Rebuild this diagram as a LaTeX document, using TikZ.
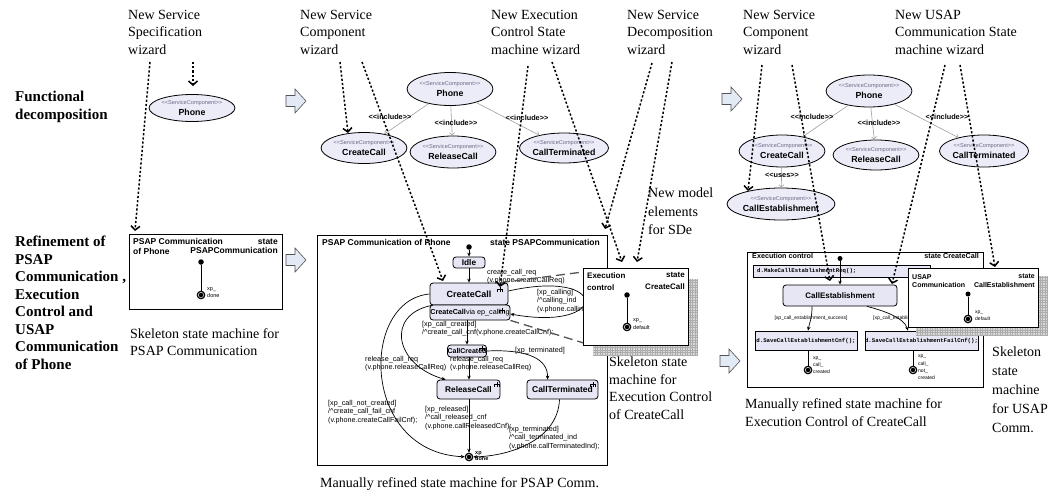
\documentclass[tikz,border=0pt]{standalone}
\usepackage{fontspec}
\setmainfont{Liberation Serif}
\setsansfont{Liberation Sans}
\setmonofont{Liberation Mono}
\usetikzlibrary{arrows.meta,shapes.geometric,calc}

\definecolor{ucfill}{HTML}{ECECF8}
\definecolor{stfill}{HTML}{E6E6F4}
\definecolor{arrfill}{HTML}{E2EAF6}
\definecolor{stereo}{HTML}{6A6A88}
\definecolor{decomp}{HTML}{555555}

% stereotype brackets, kept apart so no ligature forms
\newcommand\guil[1]{<\kern0pt<#1>\kern0pt>}
% use case label: stereotype line and name
\newcommand\ucl[1]{{\fontsize{5.6}{6}\selectfont\color{stereo}\guil{ServiceComponent}}\\[-0.5pt]{\fontsize{8.8}{10}\selectfont\bfseries #1}}

\tikzset{
  blockarrow/.pic={\draw[draw=gray!65!black, fill=arrfill, line width=0.6pt]
    (-10,-5.5) -- (-1,-5.5) -- (-1,-12) -- (10,0) -- (-1,12) -- (-1,5.5) -- (-10,5.5) -- cycle;},
  rake/.pic={\draw[line width=0.5pt] (0,0) -- (0,2.5) (-2.5,5) -- (-2.5,2.5) -- (2.5,2.5) -- (2.5,5) (0,2.5) -- (0,5);}
}

\begin{document}
\begin{tikzpicture}[x=1pt,y=-1pt,
  wiz/.style={anchor=north west, inner sep=0, align=left, font=\fontsize{14}{17.5}\selectfont},
  rowlab/.style={anchor=north west, inner sep=0, align=left, font=\fontsize{15}{17.5}\selectfont\bfseries},
  uc/.style={ellipse, draw, line width=0.8pt, fill=ucfill, inner sep=0, align=center, font=\sffamily},
  incl/.style={draw=gray!75, line width=0.6pt, -{Straight Barb[length=2.5pt,width=5pt]}},
  stlab/.style={inner sep=0, font=\sffamily\bfseries\fontsize{7.3}{8}\selectfont},
  wizarr/.style={line width=1.5pt, dash pattern=on 2.2pt off 2pt, -{Straight Barb[length=4pt,width=9pt]}},
  decompl/.style={draw=decomp, line width=1.3pt, dash pattern=on 9pt off 5pt},
  tr/.style={line width=0.7pt, -{Stealth[length=4pt,width=3.5pt]}},
  plainl/.style={line width=0.9pt},
  smbox/.style={draw, line width=0.8pt, fill=white, inner sep=0, anchor=north west},
  ttl/.style={inner sep=0, align=left, font=\sffamily\bfseries\fontsize{8.5}{9.5}\selectfont},
  st/.style={draw, rounded corners=3pt, fill=stfill, line width=0.8pt, inner sep=0, font=\sffamily\bfseries},
  act/.style={draw, fill=stfill, line width=0.7pt, inner sep=0, font=\ttfamily\bfseries\fontsize{5.7}{6}\selectfont},
  tl/.style={anchor=north west, inner sep=0, align=left, font=\sffamily\fontsize{7.2}{8.3}\selectfont},
  smalllab/.style={anchor=north west, inner sep=0, align=left, font=\sffamily\fontsize{5.5}{7}\selectfont},
  initdot/.style={circle, fill, inner sep=0, minimum size=5.5pt},
  finaldot/.style={circle, draw=black, fill=black, line width=0.6pt, inner sep=0, minimum size=8pt,
    path picture={\draw[white, line width=0.45pt] (path picture bounding box.center) circle (2.7pt);}},
  gridshadow/.style={fill=gray!30},
  gridlines/.style={draw=gray!65, line width=0.35pt, step=2.5pt},
]
\path[use as bounding box] (0,0) rectangle (1051,495);
\fill[white] (0,0) rectangle (1051,495);

% ---------------- headings ----------------
\node[wiz] (wSpec) at (128,10) {New Service\\Specification\\wizard};
\node[wiz] (wComp) at (300,10) {New Service\\Component\\wizard};
\node[wiz] (wExec) at (491,10) {New Execution\\Control State\\machine wizard};
\node[wiz] (wDec) at (627,10) {New Service\\Decomposition\\wizard};
\node[wiz] (wComp2) at (743,10) {New Service\\Component\\wizard};
\node[wiz] (wUsap) at (895,10) {New USAP\\Communication State\\machine wizard};

\node[rowlab] (rFunc) at (15,91) {Functional\\decomposition};
\node[rowlab] (rRef) at (15,236) {Refinement of\\PSAP\\Communication ,\\Execution\\Control and\\USAP\\Communication\\of Phone};

% ---------------- functional decomposition ----------------
\node[uc, minimum width=81, minimum height=27] (ph1) at (192,108) {\ucl{Phone}};

\node[uc, minimum width=83, minimum height=33] (ph2) at (450,89) {\ucl{Phone}};
\node[uc, minimum width=78, minimum height=31] (cc2) at (364,148) {\ucl{CreateCall}};
\node[uc, minimum width=71, minimum height=32] (rc2) at (453,152) {\ucl{ReleaseCall}};
\node[uc, minimum width=88, minimum height=30] (ct2) at (564,148) {\ucl{CallTerminated}};
\draw[incl] (ph2) -- (cc2);
\draw[incl] (ph2) -- (rc2);
\draw[incl] (ph2) -- (ct2);
\node[stlab] (in1) at (390,117) {\guil{include}};
\node[stlab] (in2) at (456,123) {\guil{include}};
\node[stlab] (in3) at (527,118) {\guil{include}};

\node[uc, minimum width=82, minimum height=32] (ph3) at (869,91) {\ucl{Phone}};
\node[uc, minimum width=75, minimum height=32] (cc3) at (782,151) {\ucl{CreateCall}};
\node[uc, minimum width=75, minimum height=30] (rc3) at (876,155) {\ucl{ReleaseCall}};
\node[uc, minimum width=85, minimum height=32] (ct3) at (984,151) {\ucl{CallTerminated}};
\node[uc, minimum width=92, minimum height=32] (ce3) at (781,204) {\ucl{CallEstablishment}};
\draw[incl] (ph3) -- (cc3);
\draw[incl] (ph3) -- (rc3);
\draw[incl] (ph3) -- (ct3);
\draw[incl] (cc3) -- (ce3);
\node[stlab] (in4) at (812,117) {\guil{include}};
\node[stlab] (in5) at (879,123) {\guil{include}};
\node[stlab] (in6) at (947,117) {\guil{include}};
\node[stlab] (us1) at (782,175) {\guil{uses}};

% ---------------- skeleton PSAP communication ----------------
\node[smbox, minimum width=153, minimum height=75] (pb) at (129,234) {};
\node[ttl, anchor=north west] (pbT) at (133,238.5) {PSAP Communication\\of Phone};
\node[ttl, anchor=north east, align=right] (pbS) at (278,238.5) {state\\PSAPCommunication};
\node[initdot] (pbI) at (201,262) {};
\node[finaldot] (pbF) at (201,295) {};
\draw[plainl] (pbI) -- (pbF);
\node[smalllab] (pbL) at (207,287) {xp\_\\done};
\node[wiz] (capP) at (130,328) {Skeleton state machine for\\PSAP Communication};

% ---------------- refined PSAP communication ----------------
\node[smbox, minimum width=290, minimum height=230] (bb) at (317,235) {};
\node[ttl, anchor=north west] (bbT) at (322,239) {PSAP Communication of Phone};
\node[ttl, anchor=north east] (bbS) at (600,239) {state PSAPCommunication};

\node[initdot] (i2) at (469,247) {};
\node[st, minimum width=32, minimum height=11, font=\sffamily\bfseries\fontsize{8.3}{9}\selectfont] (idle) at (469,262.5) {Idle};
\node[st, minimum width=78, minimum height=22, font=\sffamily\bfseries\fontsize{9}{10}\selectfont] (cc) at (469,294) {CreateCall};
\node[st, minimum width=80, minimum height=15, font=\sffamily\fontsize{7.2}{8}\selectfont] (ccv) at (470,312.5) {\textbf{CreateCall}via ep\_calling};
\node[st, minimum width=38, minimum height=12, font=\sffamily\bfseries\fontsize{7}{8}\selectfont] (ccd) at (467,351) {CallCreated};
\node[st, minimum width=63, minimum height=19, font=\sffamily\bfseries\fontsize{8.3}{9}\selectfont] (rl) at (468.5,389.5) {ReleaseCall};
\node[st, minimum width=71, minimum height=19, font=\sffamily\bfseries\fontsize{8.5}{9}\selectfont] (term) at (562.5,389.5) {CallTerminated};
\node[finaldot] (f2) at (469,457) {};
\node[anchor=north west, inner sep=0, align=left, font=\sffamily\bfseries\fontsize{5.5}{6}\selectfont] (f2L) at (475,451) {xp\\done};

\pic at (500,287) {rake};
\pic at (502,308) {rake};
\pic at (482,346) {rake};
\pic at (497,382) {rake};
\pic at (593,382) {rake};

\draw[tr] (i2) -- (idle);
\draw[tr] (idle) -- (cc);
\draw[tr] (ccv.south -| ccd.north) -- (ccd.north);
\draw[tr] (ccd.south -| 469,0) -- (rl.north -| 469,0);
\draw[tr] (rl.south -| 469,0) -- (f2);
\draw[tr] ([yshift=3pt]cc.east) .. controls (610,268) and (610,332) .. ([yshift=-1.5pt]ccv.east);
\draw[tr] (cc.west) .. controls (360,300) and (360,452) .. (f2);
\draw[tr] ([xshift=2pt]cc.south west) .. controls (385,315) and (395,365) .. ([xshift=9pt]rl.north west);
\draw[tr] (ccd.east) .. controls (530,349) and (548,360) .. ([xshift=-15pt]term.north);
\draw[tr] ([xshift=-3pt]term.south) .. controls (558,440) and (510,456) .. (f2);

\node[tl] (lReq) at (487,269) {create\_call\_req\\(v.phone.createCallReq)};
\node[tl] (lCalling) at (537,289) {[xp\_calling]\\/\textasciicircum calling\_ind\\(v.phone.callingInd);};
\node[tl] (lCreated) at (422,321) {[xp\_call\_created]\\/\textasciicircum create\_call\_cnf(v.phone.createCallCnf);};
\node[tl] (lTerm1) at (515,347) {[xp\_terminated]};
\node[tl] (lRel1) at (450,356) {release\_call\_req\\(v.phone.releaseCallReq)};
\node[tl] (lRel2) at (365,356) {release\_call\_req\\(v.phone.releaseCallReq)};
\node[tl] (lNot) at (328,400) {[xp\_call\_not\_created]\\/\textasciicircum create\_call\_fail\_cnf\\(v.phone.createCallFailCnf);};
\node[tl] (lReld) at (425,406) {[xp\_released]\\/\textasciicircum call\_released\_cnf\\(v.phone.callReleasedCnf);};
\node[tl] (lTerm2) at (509,426) {[xp\_terminated]\\/\textasciicircum call\_terminated\_ind\\(v.phone.callTerminatedInd);};
\node[wiz] (capB) at (320,477) {Manually refined state machine for PSAP Comm.};

% ---------------- skeleton execution control ----------------
\fill[gridshadow] (593,279) rectangle (698,356);
\draw[gridlines] (593,279) grid (698,356);
\node[smbox, minimum width=105, minimum height=77] (eb) at (583,268) {};
\node[ttl, anchor=north west, font=\sffamily\bfseries\fontsize{8}{12.4}\selectfont] (ebT) at (587,272) {Execution\\control};
\node[ttl, anchor=north east, align=right, font=\sffamily\bfseries\fontsize{8}{12.4}\selectfont] (ebS) at (685,272) {state\\CreateCall};
\node[initdot] (ebI) at (627,295) {};
\node[finaldot] (ebF) at (627,327) {};
\draw[plainl] (ebI) -- (ebF);
\node[smalllab, font=\sffamily\fontsize{5.5}{8}\selectfont] (ebL) at (633,318) {xp\_\\default};
\node[wiz] (capE) at (609,357) {Skeleton state\\machine for\\Execution Control\\of CreateCall};
\node[wiz, font=\fontsize{14}{18.5}\selectfont] (newM) at (648,188) {New model\\elements\\for SDe};

\draw[decompl] ([xshift=-8pt]cc.north east) -- ([yshift=-4pt]eb.north west);
\draw[decompl] (ccv.south east) -- ([yshift=3pt]eb.south west);

% ---------------- refined execution control ----------------
\node[smbox, minimum width=236, minimum height=135] (rb) at (747,252) {};
\node[ttl, anchor=north west, font=\sffamily\bfseries\fontsize{7.2}{8}\selectfont] (rbT) at (752,253.5) {Execution control};
\node[ttl, anchor=north east, font=\sffamily\bfseries\fontsize{7.2}{8}\selectfont] (rbS) at (979,253.5) {state CreateCall};
\node[act, minimum width=177, minimum height=12, anchor=north west] (mk) at (753,265) {};
\node[anchor=west, inner sep=0, font=\ttfamily\bfseries\fontsize{5.7}{6}\selectfont] (mkT) at (757,271) {d.MakeCallEstablishmentReq();};
\node[initdot, minimum size=5pt] (rbI) at (840,258.5) {};
\node[st, minimum width=114, minimum height=21, font=\sffamily\bfseries\fontsize{8}{9}\selectfont] (ce) at (840,295.5) {CallEstablishment};
\draw[tr] (rbI) -- (ce);
\node[act, minimum width=102, minimum height=19] (sv1) at (806,340.5) {d.SaveCallEstablishmentCnf();};
\node[act, minimum width=113, minimum height=19] (sv2) at (921.5,340.5) {d.SaveCallEstablishmentFailCnf();};
\draw[tr] ([xshift=-28pt]ce.south) .. controls +(0,12) and +(2,-10) .. ([xshift=2pt]sv1.north);
\draw[tr] ([xshift=27pt]ce.south) .. controls (885,311) and (904,318) .. ([xshift=-13.5pt]sv2.north);
\node[inner sep=0, font=\sffamily\fontsize{5}{6}\selectfont] (lSucc) at (811,318) {[xp\_call\_establishment\_success]};
\node[anchor=west, inner sep=0, font=\sffamily\fontsize{5}{6}\selectfont] (lFail) at (873,318) {[xp\_call\_establishment\_failure]};
\node[finaldot] (f5) at (808,370) {};
\node[finaldot] (f6) at (913,370) {};
\draw[plainl] (f5 |- sv1.south) -- (f5);
\draw[plainl] (f6 |- sv2.south) -- (f6);
\node[smalllab, font=\sffamily\fontsize{5}{7}\selectfont] (lf5) at (813,357) {xp\_\\call\_\\created};
\node[smalllab, font=\sffamily\fontsize{5}{7.3}\selectfont] (lf6) at (918,355) {xp\_\\call\_\\not\_\\created};
\node[wiz, font=\fontsize{14}{18}\selectfont] (capR) at (745,398) {Manually refined state machine for\\Execution Control of CreateCall};

% ---------------- skeleton USAP communication ----------------
\fill[gridshadow] (916,276) rectangle (1048,336);
\draw[gridlines] (916,276) grid (1048,336);
\node[smbox, minimum width=130, minimum height=59] (ub) at (908,268) {};
\node[ttl, anchor=north west, font=\sffamily\bfseries\fontsize{7}{8.5}\selectfont] (ubT) at (912,274) {USAP\\Communication};
\node[ttl, anchor=north east, align=right, font=\sffamily\bfseries\fontsize{7}{8.5}\selectfont] (ubS) at (1035,274) {state\\CallEstablishment};
\node[initdot, minimum size=5pt] (ubI) at (968,294) {};
\node[finaldot] (ubF) at (968,319) {};
\draw[plainl] (ubI) -- (ubF);
\node[smalllab, font=\sffamily\fontsize{5}{7}\selectfont] (ubL) at (975,311) {xp\_\\default};
\node[wiz, font=\fontsize{14}{19}\selectfont] (capU) at (992,347) {Skeleton\\state\\machine\\for USAP\\Comm.};

% ---------------- wizard traces ----------------
\coordinate (sP1) at (193,62);  \coordinate (eP1) at (193,86);
\coordinate (sP2) at (150,62);  \coordinate (eP2) at (135,231);
\coordinate (sA) at (340,62);   \coordinate (eA) at (348,133);
\coordinate (sB) at (362,62);   \coordinate (eB) at (443,281);
\coordinate (sC) at (528,66);   \coordinate (eC) at (500,287);
\coordinate (sD) at (552,62);   \coordinate (eD) at (622,262);
\coordinate (sE) at (652,63);   \coordinate (eE) at (605,229);
\coordinate (sF) at (672,62);   \coordinate (eF) at (637,262);
\coordinate (sG) at (762,65);   \coordinate (eG) at (748,191);
\coordinate (sH) at (792,65);   \coordinate (eH) at (830,281);
\coordinate (sI) at (945,65);   \coordinate (eI) at (892,284);
\coordinate (sJ) at (960,65);   \coordinate (eJ) at (995,267);
\foreach \w in {P1,P2,A,B,C,D,E,F,G,H,I,J}
  \draw[wizarr] (s\w) -- (e\w);

% ---------------- flow arrows ----------------
\pic (ba1) at (296,101) {blockarrow};
\pic (ba2) at (732,99) {blockarrow};
\pic (ba3) at (296,260) {blockarrow};
\pic (ba4) at (730,361) {blockarrow};
\end{tikzpicture}
\end{document}
